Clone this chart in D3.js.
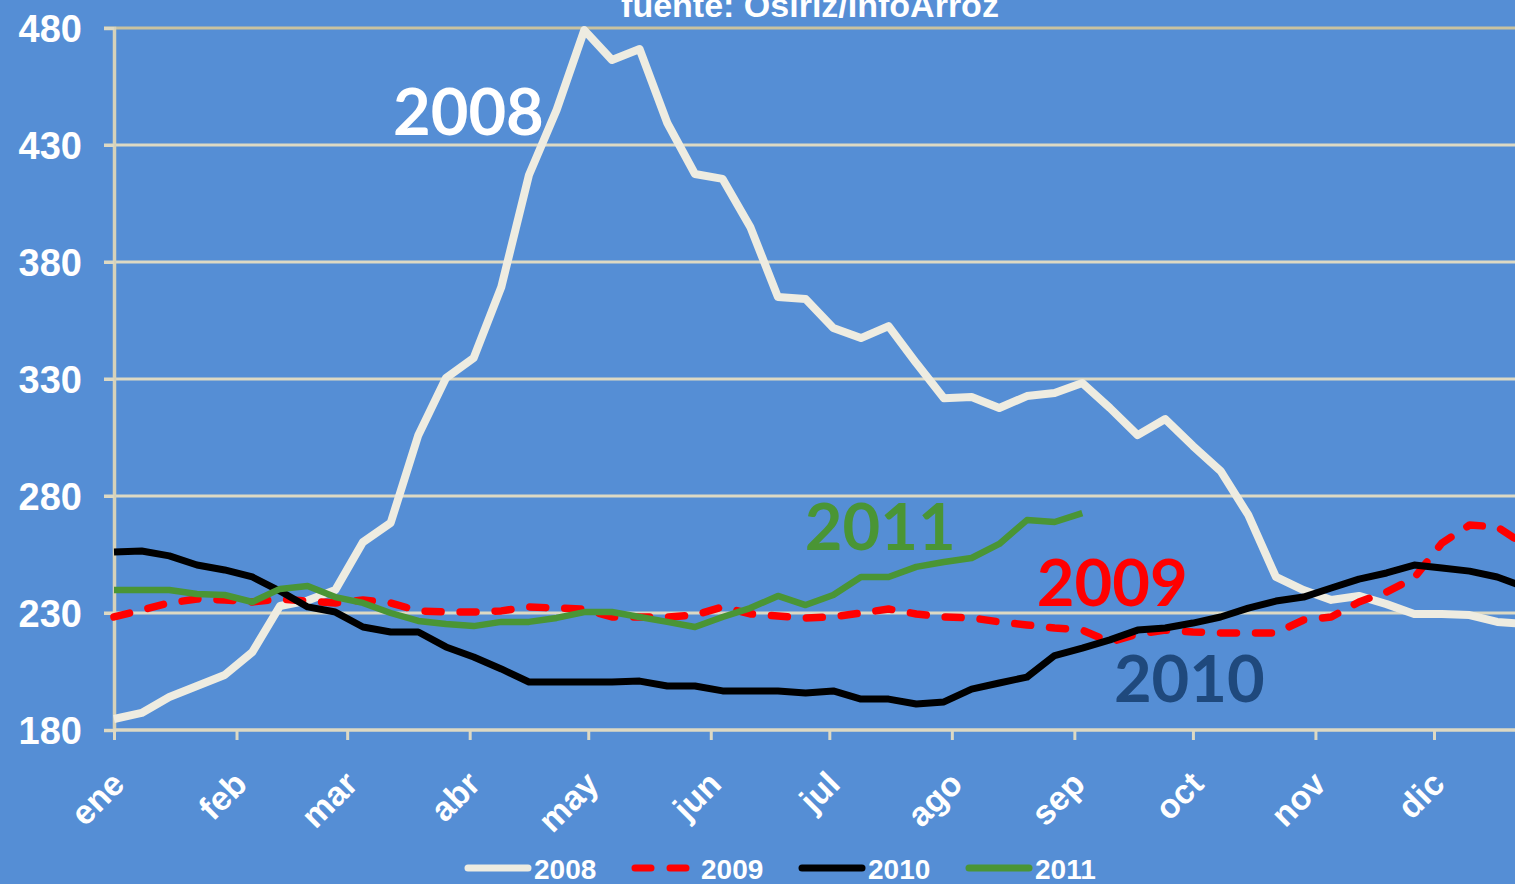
<!DOCTYPE html>
<html><head><meta charset="utf-8">
<script src="https://cdn.jsdelivr.net/npm/d3@7"></script>
<style>html,body{margin:0;padding:0;background:#558ED5;overflow:hidden}svg{display:block}</style>
</head><body>
<svg id="chart" width="1515" height="884"></svg>
<script>
// ---- data ----
const months = ["ene","feb","mar","abr","may","jun","jul","ago","sep","oct","nov","dic"];
const monthStartDays = [0,31,59,90,120,151,181,212,243,273,304,334];
const yTicks = [180,230,280,330,380,430,480];
const seriesNames = ["2008","2009","2010","2011"];
const title = "fuente: Osiriz/InfoArroz";
// weekly values (week 0 = 1 ene)
const v2008 = [184.7,187.3,194.1,198.8,203.5,213.3,233,235.3,239.8,260.3,268.5,306,330.4,339,369.3,417.2,445,479.1,466.3,471,439.4,417.6,415.5,395,365,364.2,351.8,347.5,352.6,336.8,321.8,322.3,317.6,322.7,324,328.3,317.6,306,312.9,301.4,290.7,271.9,245.4,239.8,235.6,237.3,233.8,229.6,229.6,229.1,226.2,225.3];
const v2009 = [228.3,231.3,234.3,236,235.6,234.7,236,235.1,234.3,235.6,234.3,230.9,230.4,230.4,230.9,232.6,232.1,231.7,228.3,228.3,228.3,229.1,232.6,229.6,228.7,227.9,228.3,230,231.7,229.6,228.3,227.9,226.2,224.9,223.6,222.7,217.6,221,222.7,221.9,221.5,221.5,221.5,227,228.3,234.7,239,245,259.9,267.6,266.8,259];
const v2010 = [256.1,256.5,254.4,250.5,248.4,245.4,239.4,232.6,230.4,224,221.9,221.9,215.5,211.2,206.1,200.5,200.5,200.5,200.5,200.9,198.8,198.8,196.7,196.7,196.7,195.8,196.7,193.2,193.2,191.1,192,197.5,200.1,202.6,211.8,215,218.5,222.7,223.6,225.7,228.3,232.1,235.1,236.8,240.7,244.5,247.1,250.5,249.2,247.9,245.4,241.1];
const v2011 = [239.8,239.8,239.8,238.1,237.7,234.7,240.3,241.5,236.8,234.3,230,226.6,225.3,224.4,226.2,226.2,227.9,230.4,230.4,228.3,226.2,224,228.3,232.1,237.3,233.4,237.7,245.4,245.4,249.7,251.8,253.5,259.5,269.7,268.9,272.7];
// in-chart labels: [text, day, value]
const labelPos = [["2008",70.6,434.3],["2009",233.5,233],["2010",253,192],["2011",174.8,256.9]];

// ---- styles ----
const colors = {"2008":"#EEECE1","2009":"#FF0000","2010":"#000000","2011":"#4A9535"};
const labelColors = {"2008":"#FFFFFF","2009":"#FF0000","2010":"#1F497D","2011":"#4A9535"};
const widths = {"2008":8,"2009":7.5,"2010":7,"2011":6.5};
const dashes = {"2009":"16,19"};
const gridColor = "#DDD9C3";

const svg = d3.select("#chart");
const W = 1515, H = 884;
const x = d3.scaleLinear().domain([0,334]).range([114,1434]);
const y = d3.scaleLinear().domain([180,480]).range([730,28]);

// gridlines
svg.append("g").selectAll("line").data(yTicks.filter(d=>d>180)).join("line")
  .attr("x1",104).attr("x2",W).attr("y1",d=>y(d)).attr("y2",d=>y(d))
  .attr("stroke",d=>d===480?"#C9C29F":gridColor).attr("stroke-width",3);

// y axis
const yAxis = svg.append("g").attr("transform",`translate(${x(0)},0)`)
  .call(d3.axisLeft(y).tickValues(yTicks).tickSize(10).tickPadding(22).tickFormat(d3.format("d")));
yAxis.select(".domain").attr("stroke","#D6D2BA").attr("stroke-width",3.5);
yAxis.selectAll(".tick line").attr("stroke",gridColor).attr("stroke-width",3);
yAxis.selectAll(".tick text").attr("fill","#FFFFFF").attr("font-family","Liberation Sans, Arial, sans-serif")
  .attr("font-weight","bold").attr("font-size",38).attr("dy","0.36em");

// x axis
const xAxis = svg.append("g").attr("transform",`translate(0,${y(180)})`)
  .call(d3.axisBottom(x).tickValues(monthStartDays).tickSize(10).tickFormat((d,i)=>months[i]));
xAxis.select(".domain").attr("d",`M${x(0)},0H${W}`).attr("stroke",gridColor).attr("stroke-width",3.5);
xAxis.selectAll(".tick line").attr("stroke",gridColor).attr("stroke-width",3);
xAxis.selectAll(".tick text").attr("fill","#FFFFFF").attr("font-family","Liberation Sans, Arial, sans-serif")
  .attr("font-weight","bold").attr("font-size",34)
  .attr("text-anchor","end").attr("x",12).attr("y",56).attr("dy",0)
  .attr("transform","rotate(-45 12 56)");

// lines
const seriesData = {"2008":v2008,"2009":v2009,"2010":v2010,"2011":v2011};
const line = d3.line().x((d,i)=>x(i*7)).y(d=>y(d));
const plot = svg.append("g");
seriesNames.forEach(n=>{
  plot.append("path").datum(seriesData[n]).attr("d",line)
    .attr("fill","none").attr("stroke",colors[n]).attr("stroke-width",widths[n])
    .attr("stroke-linejoin","round")
    .attr("stroke-linecap", n==="2009"?"round":"butt")
    .attr("stroke-dasharray", dashes[n]||null);
});

// series labels
svg.append("g").selectAll("text").data(labelPos).join("text")
  .attr("x",d=>x(d[1])).attr("y",d=>y(d[2]))
  .attr("fill",d=>labelColors[d[0]]).attr("font-family","Lato, sans-serif")
  .attr("font-weight","bold").attr("font-size",65).text(d=>d[0]);

// title
svg.append("text").attr("x",810).attr("y",17).attr("text-anchor","middle")
  .attr("fill","#FFFFFF").attr("font-family","Liberation Sans, Arial, sans-serif")
  .attr("font-weight","bold").attr("font-size",34).text(title);

// legend
const legend = svg.append("g").attr("transform","translate(465,868)");
const step = 167;
seriesNames.forEach((n,i)=>{
  const g = legend.append("g").attr("transform",`translate(${i*step},0)`);
  g.append("line").attr("x1",3).attr("x2",63).attr("y1",0).attr("y2",0)
    .attr("stroke",colors[n]).attr("stroke-width",7).attr("stroke-linecap","round")
    .attr("stroke-dasharray", n==="2009" ? "16,19" : null);
  g.append("text").attr("x",69).attr("y",11).attr("fill","#FFFFFF")
    .attr("font-family","Liberation Sans, Arial, sans-serif").attr("font-weight","bold")
    .attr("font-size",28).text(n);
});
</script>
</body></html>
